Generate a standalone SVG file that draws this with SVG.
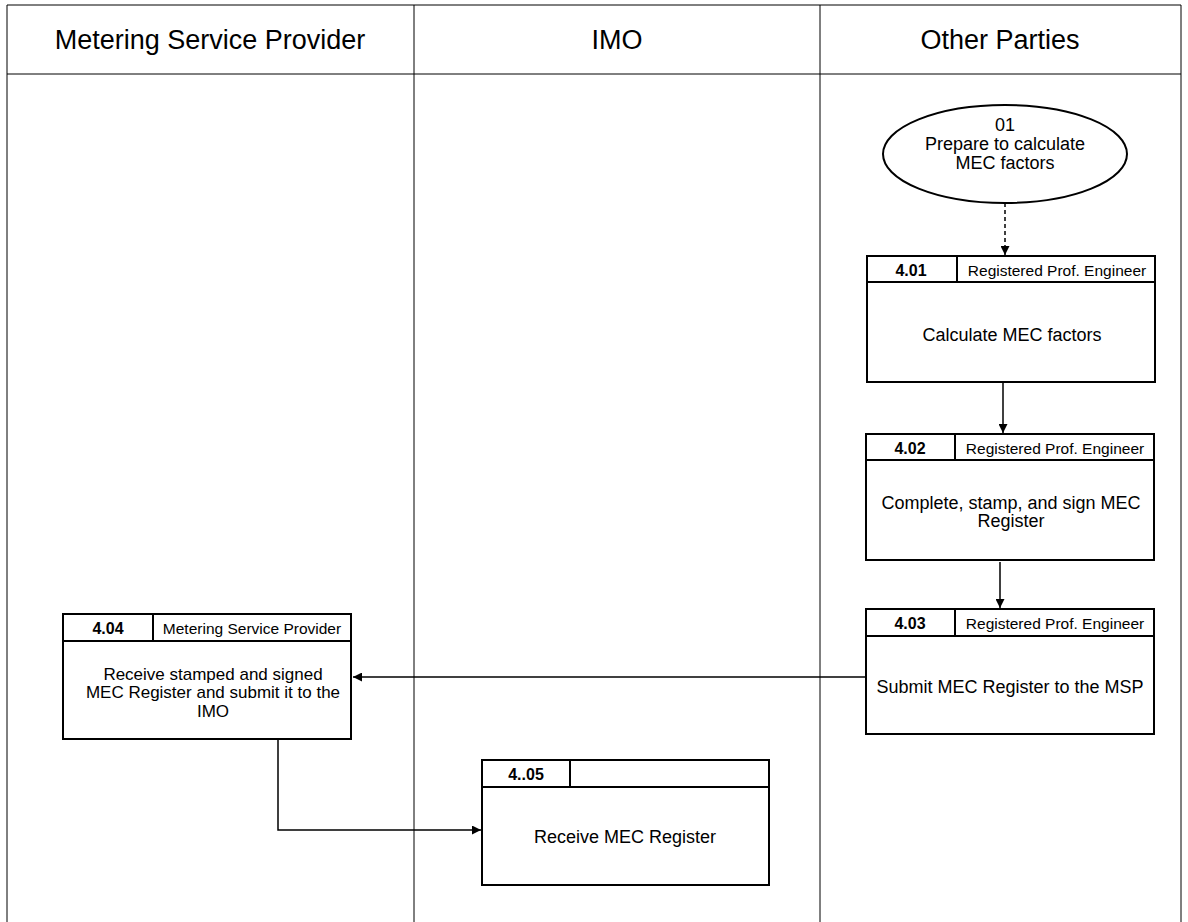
<svg xmlns="http://www.w3.org/2000/svg" width="1188" height="922" viewBox="0 0 1188 922">
<defs>
<marker id="ah" viewBox="0 0 10 10" refX="10" refY="5" markerWidth="9" markerHeight="9" markerUnits="userSpaceOnUse" orient="auto">
<path d="M0,0 L10,5 L0,10 z" fill="#000"/>
</marker>
</defs>
<style>
.lane{fill:none;stroke:#000;stroke-width:1}
.box{fill:#fff;stroke:#000;stroke-width:2}
.hd{font-family:"Liberation Sans",Arial,sans-serif;font-size:27px;text-anchor:middle;fill:#000}
.t{font-family:"Liberation Sans",Arial,sans-serif;font-size:18px;text-anchor:middle;fill:#000}
.t17{font-family:"Liberation Sans",Arial,sans-serif;font-size:17px;text-anchor:middle;fill:#000}
.id{font-family:"Liberation Sans",Arial,sans-serif;font-size:16px;font-weight:bold;text-anchor:middle;fill:#000}
.role{font-family:"Liberation Sans",Arial,sans-serif;font-size:15.5px;text-anchor:middle;fill:#000}
.c{fill:none;stroke:#000;stroke-width:1.5}
</style>
<rect width="1188" height="922" fill="#fff"/>
<g id="lanes">
<path class="lane" d="M7,922 V5 H1181 V922 M7,74 H1181 M414,5 V922 M820,5 V922"/>
<text class="hd" x="210" y="49">Metering Service Provider</text>
<text class="hd" x="617" y="49">IMO</text>
<text class="hd" x="1000" y="49">Other Parties</text>
</g>
<g id="n01">
<ellipse class="box" cx="1005" cy="154" rx="122" ry="49"/>
<text class="t" x="1005" y="131">01</text>
<text class="t" x="1005" y="150">Prepare to calculate</text>
<text class="t" x="1005" y="169">MEC factors</text>
</g>
<g id="n401">
<rect class="box" x="867" y="256" width="288" height="126"/>
<path class="box" d="M867,282 H1155 M957,256 V282"/>
<text class="id" x="911" y="276">4.01</text>
<text class="role" x="1057" y="276">Registered Prof. Engineer</text>
<text class="t" x="1012" y="341">Calculate MEC factors</text>
</g>
<g id="n402">
<rect class="box" x="866" y="434" width="288" height="126"/>
<path class="box" d="M866,460 H1154 M955,434 V460"/>
<text class="id" x="910" y="454">4.02</text>
<text class="role" x="1055" y="454">Registered Prof. Engineer</text>
<text class="t" x="1011" y="509">Complete, stamp, and sign MEC</text>
<text class="t" x="1011" y="527">Register</text>
</g>
<g id="n403">
<rect class="box" x="866" y="609" width="288" height="125"/>
<path class="box" d="M866,636 H1154 M955,609 V636"/>
<text class="id" x="910" y="629">4.03</text>
<text class="role" x="1055" y="629">Registered Prof. Engineer</text>
<text class="t" x="1010" y="693">Submit MEC Register to the MSP</text>
</g>
<g id="n404">
<rect class="box" x="63" y="614" width="288" height="125"/>
<path class="box" d="M63,641 H351 M153,614 V641"/>
<text class="id" x="108" y="634">4.04</text>
<text class="role" x="252" y="634">Metering Service Provider</text>
<text class="t17" x="213" y="680">Receive stamped and signed</text>
<text class="t17" x="213" y="698">MEC Register and submit it to the</text>
<text class="t17" x="213" y="717">IMO</text>
</g>
<g id="n405">
<rect class="box" x="482" y="760" width="287" height="125"/>
<path class="box" d="M482,787 H769 M570,760 V787"/>
<text class="id" x="526" y="780">4..05</text>
<text class="t" x="625" y="843">Receive MEC Register</text>
</g>
<g id="connectors">
<path class="c" d="M1005,203 V255" stroke-dasharray="4,3" marker-end="url(#ah)"/>
<path class="c" d="M1003,382 V433" marker-end="url(#ah)"/>
<path class="c" d="M1000,562 V608" marker-end="url(#ah)"/>
<path class="c" d="M866,677 H353" marker-end="url(#ah)"/>
<path class="c" d="M278,739 V830 H481" marker-end="url(#ah)"/>
</g>
</svg>
